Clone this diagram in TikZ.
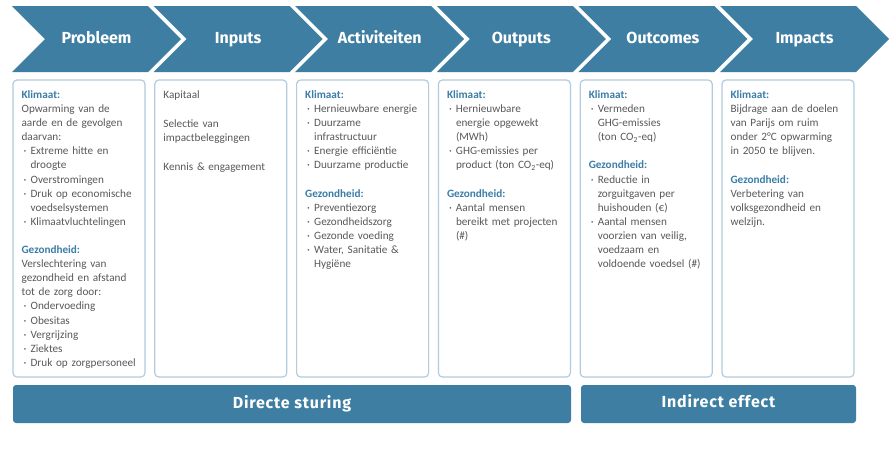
\documentclass[tikz,border=0pt]{standalone}
\usepackage{fontspec}
\setmainfont{Carlito}
\newfontfamily\headfont{Fira Sans}
\newfontfamily\barfont{Fira Sans}[LetterSpace=5]
\usetikzlibrary{shapes.symbols,positioning}

\definecolor{chevblue}{HTML}{3F7EA3}
\definecolor{kopblue}{HTML}{3B7DA8}
\definecolor{boxline}{HTML}{B3CCDD}
\definecolor{bodygray}{HTML}{595959}

\newcommand\kop[1]{{\color{kopblue}\bfseries #1}}
\newcommand\bul{\makebox[9pt][l]{\hspace{2pt}\textperiodcentered}}
\newcommand\ind{\hspace*{9pt}}

\tikzset{
  chev/.style={signal, signal from=west, signal to=east, signal pointer angle=90,
    fill=chevblue, minimum width=169pt, minimum height=66pt, inner sep=0pt, outer sep=0pt,
    text=white, text height=11.5pt, text depth=3pt,
    font=\headfont\bfseries\fontsize{16}{18}\selectfont},
  infobox/.style={draw=boxline, line width=1.2pt, rounded corners=4pt,
    minimum width=132pt, minimum height=297pt, inner sep=0pt},
  infotext/.style={anchor=north west, text width=128pt, align=left, inner sep=0pt,
    text=bodygray, font=\fontsize{11.2}{14.1}\selectfont},
  bar/.style={fill=chevblue, rounded corners=3pt, minimum height=38pt, inner sep=0pt,
    text=white, font=\barfont\bfseries\fontsize{16}{18}\selectfont}
}

\begin{document}
\begin{tikzpicture}[x=1pt,y=1pt]
\useasboundingbox (0,0) rectangle (892,-448);
\fill [white] (0,0) rectangle (892,-448);

% chevrons
\node [chev] (probleem) at (96.5,-39) {Probleem};
\node [chev] (inputs) at (238.1,-39) {Inputs};
\node [chev] (activiteiten) at (379.7,-39) {Activiteiten};
\node [chev] (outputs) at (521.3,-39) {Outputs};
\node [chev] (outcomes) at (662.9,-39) {Outcomes};
\node [chev] (impacts) at (804.5,-39) {Impacts};

% boxes
\node [infobox] (k1) at (79,-228.5) {};
\node [infobox] (k2) at (220.8,-228.5) {};
\node [infobox] (k3) at (362.6,-228.5) {};
\node [infobox] (k4) at (504.4,-228.5) {};
\node [infobox] (k5) at (646.2,-228.5) {};
\node [infobox] (k6) at (788,-228.5) {};

\node [infotext] (t1) at ([shift={(9,-11)}]k1.north west) {\kop{Klimaat:}\\
Opwarming van de\\
aarde en de gevolgen\\
daarvan:\\
\bul Extreme hitte en\\
\ind droogte\\
\bul Overstromingen\\
\bul Druk op economische\\
\ind voedselsystemen\\
\bul Klimaatvluchtelingen\\[14.1pt]
\kop{Gezondheid:}\\
Verslechtering van\\
gezondheid en afstand\\
tot de zorg door:\\
\bul Ondervoeding\\
\bul Obesitas\\
\bul Vergrijzing\\
\bul Ziektes\\
\bul Druk op zorgpersoneel};

\node [infotext] (t2) at ([shift={(9,-11)}]k2.north west) {Kapitaal\\[15pt]
Selectie van\\
impactbeleggingen\\[15pt]
Kennis \& engagement};

\node [infotext] (t3) at ([shift={(9,-11)}]k3.north west) {\kop{Klimaat:}\\
\bul Hernieuwbare energie\\
\bul Duurzame\\
\ind infrastructuur\\
\bul Energie efficiëntie\\
\bul Duurzame productie\\[14.1pt]
\kop{Gezondheid:}\\
\bul Preventiezorg\\
\bul Gezondheidszorg\\
\bul Gezonde voeding\\
\bul Water, Sanitatie \&\\
\ind Hygiëne};

\node [infotext] (t4) at ([shift={(9,-11)}]k4.north west) {\kop{Klimaat:}\\
\bul Hernieuwbare\\
\ind energie opgewekt\\
\ind (MWh)\\
\bul GHG-emissies per\\
\ind product (ton CO\textsubscript{2}-eq)\\[14.1pt]
\kop{Gezondheid:}\\
\bul Aantal mensen\\
\ind bereikt met projecten\\
\ind (\#)};

\node [infotext] (t5) at ([shift={(9,-11)}]k5.north west) {\kop{Klimaat:}\\
\bul Vermeden\\
\ind GHG-emissies\\
\ind (ton CO\textsubscript{2}-eq)\\[14.1pt]
\kop{Gezondheid:}\\
\bul Reductie in\\
\ind zorguitgaven per\\
\ind huishouden (€)\\
\bul Aantal mensen\\
\ind voorzien van veilig,\\
\ind voedzaam en\\
\ind voldoende voedsel (\#)};

\node [infotext] (t6) at ([shift={(9,-11)}]k6.north west) {\kop{Klimaat:}\\
Bijdrage aan de doelen\\
van Parijs om ruim\\
onder 2°C opwarming\\
in 2050 te blijven.\\[14.1pt]
\kop{Gezondheid:}\\
Verbetering van\\
volksgezondheid en\\
welzijn.};

% bottom bars
\node [bar, minimum width=558pt] (direct) at (292,-404) {Directe sturing};
\node [bar, minimum width=275pt, text height=11.5pt, text depth=5pt] (indirect) at (718.5,-404) {Indirect effect};
\end{tikzpicture}
\end{document}
